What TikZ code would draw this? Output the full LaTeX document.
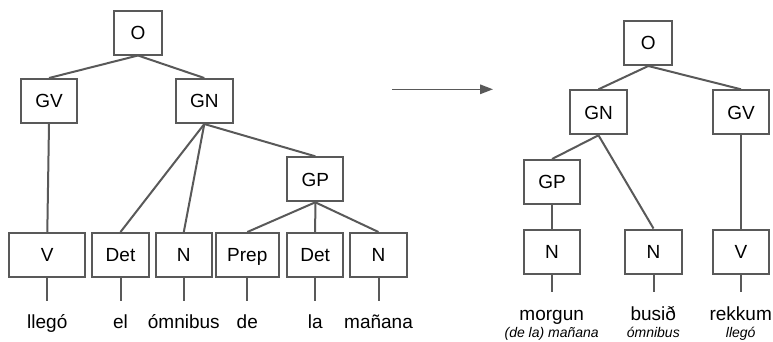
\documentclass[tikz,border=0pt]{standalone}
\usepackage{fontspec}
\setmainfont{Liberation Sans}
\usetikzlibrary{arrows.meta}
\definecolor{boxgray}{HTML}{595959}
\tikzset{
  cat/.style={draw=boxgray, line width=2pt, fill=white, minimum height=44pt, minimum width=56.5pt, inner sep=0pt, text height=13.6pt, text depth=-1pt, font=\fontsize{19}{22}\selectfont},
  edge/.style={draw=boxgray, line width=2pt},
  word/.style={anchor=base, inner sep=0pt, font=\fontsize{19}{22}\selectfont},
  gloss/.style={anchor=base, inner sep=0pt, font=\fontsize{14}{16}\selectfont\itshape},
}
\begin{document}
\begin{tikzpicture}[x=1pt,y=-1pt]
\useasboundingbox (0,0) rectangle (773,341);
% left tree
\node[cat, minimum width=48pt] (O) at (138,32.5) {O};
\node[cat] (GV) at (49,101) {GV};
\node[cat] (GN) at (204.3,101) {GN};
\node[cat, minimum width=56pt] (GP) at (315.3,179.3) {GP};
\node[cat, minimum width=76pt] (V) at (47.3,255) {V};
\node[cat] (Det1) at (120.5,255) {Det};
\node[cat] (N1) at (183.8,255) {N};
\node[cat, minimum width=63.3pt] (Prep) at (247.3,255) {Prep};
\node[cat] (Det2) at (315.2,255) {Det};
\node[cat] (N2) at (378.5,255) {N};
\draw[edge] (O.south) -- (GV.north);
\draw[edge] (O.south) -- (GN.north);
\draw[edge] (GV.south) -- (V.north);
\draw[edge] (GN.south) -- (Det1.north);
\draw[edge] (GN.south) -- (N1.north);
\draw[edge] (GN.south) -- (GP.north);
\draw[edge] (GP.south) -- (Prep.north);
\draw[edge] (GP.south) -- (Det2.north);
\draw[edge] (GP.south) -- (N2.north);
\foreach \n in {V,Det1,N1,Prep,Det2,N2} {
  \coordinate (\n-end) at ([yshift=-22.5pt]\n.south);
  \draw[edge] (\n.south) -- (\n-end);
}
\node[word] (w1) at (47.3,328.5) {llegó};
\node[word] (w2) at (120.5,328.5) {el};
\node[word] (w3) at (183.8,328.5) {ómnibus};
\node[word] (w4) at (247.3,328.5) {de};
\node[word] (w5) at (315.2,328.5) {la};
\node[word] (w6) at (378.5,328.5) {mañana};
% arrow
\coordinate (a1) at (392,89.3);
\coordinate (a2) at (493,89.3);
\draw[edge, line width=1.6pt, -{Triangle[length=13pt,width=9.5pt]}] (a1) -- (a2);
% right tree
\node[cat, minimum width=48pt] (RO) at (648.3,43) {O};
\node[cat] (RGN) at (598.5,112.3) {GN};
\node[cat] (RGV) at (741,112.3) {GV};
\node[cat] (RGP) at (552,182) {GP};
\node[cat] (RN1) at (552,251.5) {N};
\node[cat, minimum width=57pt] (RN2) at (653.5,251.5) {N};
\node[cat] (RV) at (741,251.5) {V};
\draw[edge] (RO.south) -- (RGN.north);
\draw[edge] (RO.south) -- (RGV.north);
\draw[edge] (RGN.south) -- (RGP.north);
\draw[edge] (RGN.south) -- (RN2.north);
\draw[edge] (RGP.south) -- (RN1.north);
\draw[edge] (RGV.south) -- (RV.north);
\foreach \n in {RN1,RN2,RV} {
  \coordinate (\n-end) at ([yshift=-17.5pt]\n.south);
  \draw[edge] (\n.south) -- (\n-end);
}
\node[word] (r1) at (551.7,320.5) {morgun};
\node[word] (r2) at (653.3,320.5) {busið};
\node[word] (r3) at (740.7,320.5) {rekkum};
\node[gloss] (g1) at (551.7,337.5) {(de la) mañana};
\node[gloss] (g2) at (653.3,337.5) {ómnibus};
\node[gloss] (g3) at (740.7,337.5) {llegó};
\end{tikzpicture}
\end{document}
